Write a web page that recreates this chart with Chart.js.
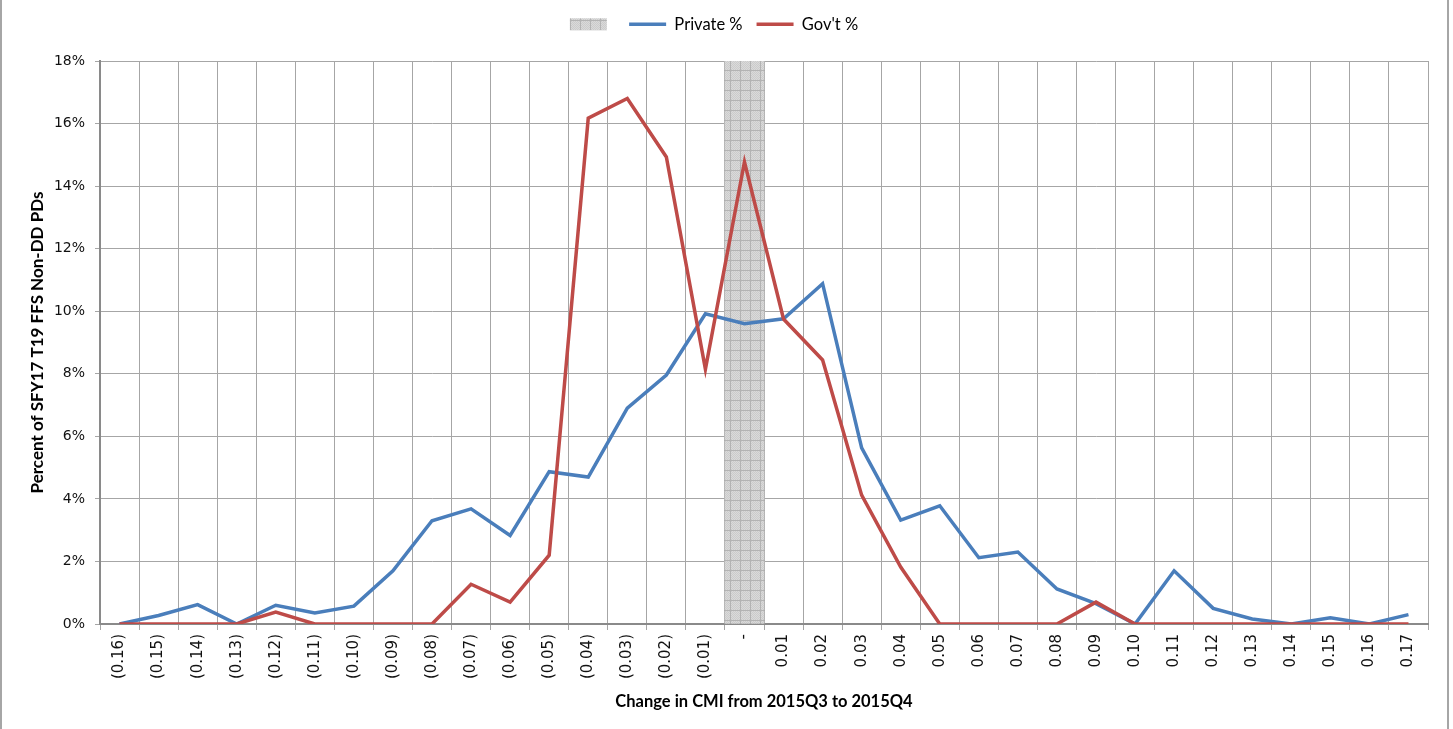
<!DOCTYPE html>
<html><head><meta charset="utf-8">
<script src="https://cdn.jsdelivr.net/npm/chart.js@4/dist/chart.umd.min.js"></script>
<style>html,body{margin:0;padding:0;background:#fff}#wrap{width:1453px;height:729px;position:relative}canvas{display:block}</style>
</head><body><div id="wrap"><canvas id="c" width="1453" height="729" style="width:1453px;height:729px"></canvas></div>
<script>
const categories = ['(0.16)','(0.15)','(0.14)','(0.13)','(0.12)','(0.11)','(0.10)','(0.09)','(0.08)','(0.07)','(0.06)','(0.05)','(0.04)','(0.03)','(0.02)','(0.01)','-','0.01','0.02','0.03','0.04','0.05','0.06','0.07','0.08','0.09','0.10','0.11','0.12','0.13','0.14','0.15','0.16','0.17'];
const privatePct = [0,0.27,0.62,0,0.6,0.35,0.57,1.7,3.3,3.68,2.83,4.87,4.7,6.9,7.96,9.92,9.6,9.76,10.88,5.63,3.32,3.78,2.12,2.3,1.12,0.65,0,1.7,0.5,0.16,0,0.2,0,0.3];
const govPct = [0,0,0,0,0.38,0,0,0,0,1.27,0.7,2.2,16.17,16.8,14.93,8.15,14.77,9.75,8.44,4.12,1.82,0,0,0,0,0.7,0,0,0,0,0,0,0,0];
const shadeBar = [null,null,null,null,null,null,null,null,null,null,null,null,null,null,null,null,18,null,null,null,null,null,null,null,null,null,null,null,null,null,null,null,null,null];
const yTicks = [0,2,4,6,8,10,12,14,16,18];

const canvas = document.getElementById('c');
const ctx = canvas.getContext('2d');
const pc = document.createElement('canvas'); pc.width = 10; pc.height = 10;
const g = pc.getContext('2d');
g.fillStyle = '#dadada'; g.fillRect(0,0,10,10);
g.fillStyle = '#cbcbcb';
for (let i = 0; i < 10; i++) for (let j = i % 2; j < 10; j += 2) g.fillRect(i, j, 1, 1);
g.fillStyle = '#b3b3b3'; g.fillRect(0,0,10,1); g.fillRect(0,0,1,10);
const pattern = ctx.createPattern(pc, 'repeat');

const sideBorders = {
  id: 'sideBorders',
  afterDraw(chart) {
    const c = chart.ctx; c.save(); c.fillStyle = '#a6a6a6';
    c.fillRect(0, 0, 2, chart.height); c.fillRect(1447, 0, 2, chart.height); c.restore();
  }
};
const legendFix = {
  id: 'legendFix',
  beforeLayout(chart) {
    const l = chart.legend;
    if (l && !l._patched) { const f = l.fit; l.fit = function(){ f.call(this); this.height = 59; }; l._patched = true; }
  }
};

new Chart(canvas, {
  type: 'bar',
  data: {
    labels: categories,
    datasets: [
      { type: 'bar', label: '', data: shadeBar, backgroundColor: pattern, borderWidth: 0,
        barPercentage: 1, categoryPercentage: 1, pointStyle: 'rect', order: 10 },
      { type: 'line', label: 'Private %', data: privatePct, borderColor: '#4a7ebb', backgroundColor: '#4a7ebb',
        borderWidth: 3.5, pointRadius: 0, tension: 0, pointStyle: 'line', order: 2 },
      { type: 'line', label: "Gov't %", data: govPct, borderColor: '#be4b48', backgroundColor: '#be4b48',
        borderWidth: 3.5, pointRadius: 0, tension: 0, pointStyle: 'line', order: 1 }
    ]
  },
  options: {
    responsive: false,
    animation: false,
    devicePixelRatio: 1,
    layout: { padding: { left: 0, right: 25, top: 2, bottom: 0 } },
    plugins: {
      tooltip: { enabled: false },
      legend: {
        position: 'top',
        labels: {
          usePointStyle: true, pointStyleWidth: 37, boxHeight: 12, padding: 14,
          color: '#000', font: { family: 'Lato', size: 16.5 },
          sort: (a, b) => a.datasetIndex - b.datasetIndex
        }
      }
    },
    scales: {
      x: {
        offset: true,
        grid: { offset: true, color: '#a6a6a6', lineWidth: 1, tickLength: 6 },
        border: { color: '#8a8a8a', width: 2 },
        ticks: { minRotation: 90, maxRotation: 90, autoSkip: false, padding: 4, color: '#111',
          font: { family: 'DejaVu Sans', size: 15 } },
        title: { display: true, text: 'Change in CMI from 2015Q3 to 2015Q4', color: '#000',
          font: { family: 'Lato', size: 16.5, weight: 'bold' }, padding: { top: 0, bottom: 17 } },
        afterFit: s => { s.height = 105; }
      },
      y: {
        min: 0, max: 18,
        grid: { color: '#a6a6a6', lineWidth: 1, tickLength: 5 },
        border: { color: '#8a8a8a', width: 2 },
        afterBuildTicks: s => { s.ticks = yTicks.map(v => ({ value: v })); },
        ticks: { stepSize: 2, padding: 10, color: '#111', font: { family: 'DejaVu Sans', size: 14 },
          callback: v => v + '%' },
        title: { display: true, text: 'Percent of SFY17 T19 FFS Non-DD PDs', color: '#000',
          font: { family: 'Lato', size: 17, weight: 'bold' }, padding: { top: 27, bottom: 0 } },
        afterFit: s => { s.width = 100; }
      }
    }
  },
  plugins: [legendFix, sideBorders]
});
</script></body></html>
